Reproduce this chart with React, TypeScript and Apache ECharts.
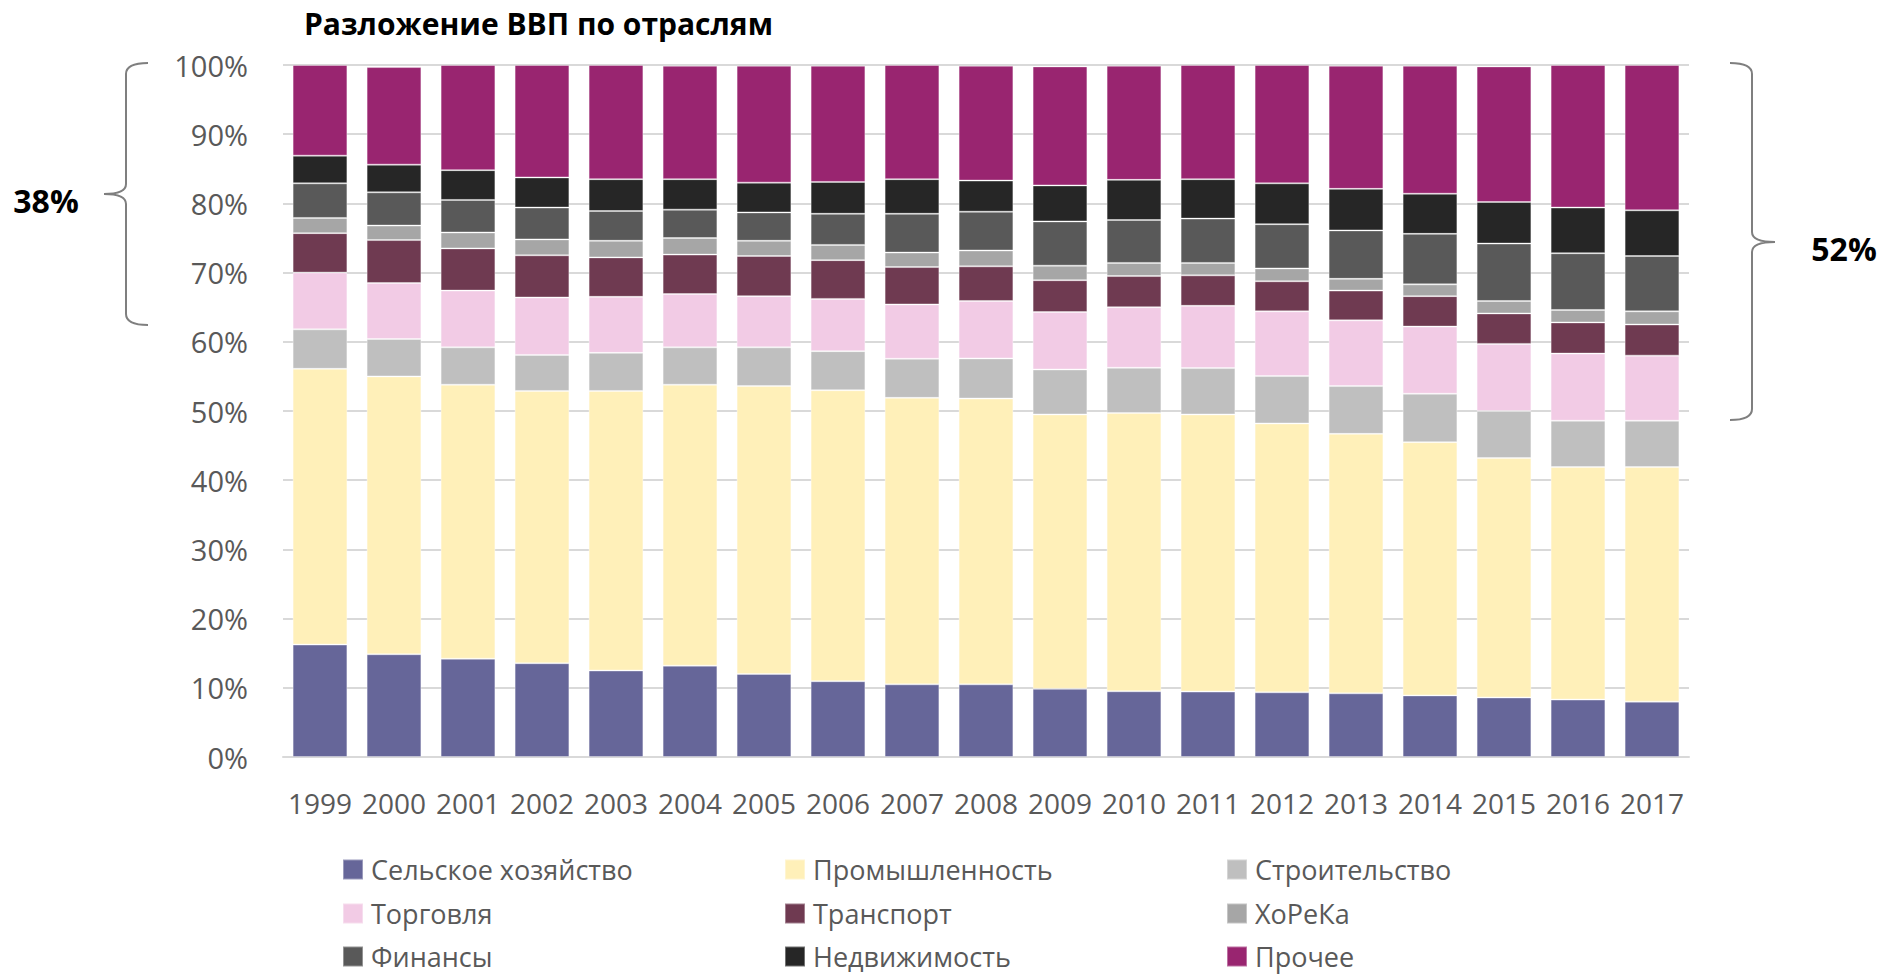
import React, { useEffect, useRef } from "react";
import * as echarts from "echarts";

const years = ["1999","2000","2001","2002","2003","2004","2005","2006","2007","2008","2009","2010","2011","2012","2013","2014","2015","2016","2017"];
const yTicks = [0, 10, 20, 30, 40, 50, 60, 70, 80, 90, 100];

const agriculture = [16.25,14.85,14.2,13.55,12.5,13.2,12.0,10.95,10.5,10.5,9.85,9.5,9.45,9.35,9.2,8.9,8.6,8.3,8.0];
const industry = [39.85,40.15,39.6,39.35,40.4,40.6,41.6,42.05,41.4,41.3,39.65,40.2,40.05,38.85,37.5,36.6,34.6,33.6,33.9];
const construction = [5.7,5.4,5.4,5.2,5.5,5.4,5.6,5.65,5.65,5.8,6.5,6.55,6.7,6.85,6.9,7.0,6.8,6.7,6.7];
const trade = [8.2,8.1,8.2,8.3,8.1,7.7,7.4,7.55,7.85,8.3,8.3,8.75,9.0,9.35,9.5,9.7,9.7,9.7,9.4];
const transport = [5.7,6.2,6.1,6.1,5.7,5.7,5.8,5.6,5.4,5.0,4.6,4.5,4.4,4.35,4.3,4.4,4.4,4.5,4.5];
const horeca = [2.2,2.1,2.3,2.3,2.4,2.4,2.2,2.2,2.1,2.3,2.1,1.9,1.8,1.85,1.7,1.7,1.8,1.8,1.9];
const finance = [5.0,4.8,4.7,4.6,4.3,4.1,4.1,4.5,5.6,5.6,6.4,6.2,6.4,6.4,7.0,7.3,8.3,8.2,8.0];
const realEstate = [4.0,4.0,4.3,4.35,4.6,4.4,4.3,4.6,5.0,4.5,5.2,5.8,5.7,5.9,6.0,5.8,6.0,6.6,6.6];
const other = [13.1,14.1,15.2,16.25,16.5,16.4,16.9,16.8,16.5,16.6,17.2,16.5,16.5,17.1,17.8,18.5,19.6,20.6,21.0];

const seriesNames = ["Сельское хозяйство","Промышленность","Строительство","Торговля","Транспорт","ХоРеКа","Финансы","Недвижимость","Прочее"];
const seriesValues = [agriculture, industry, construction, trade, transport, horeca, finance, realEstate, other];
const seriesColors = ["#666699","#FFF0B9","#BFBFBF","#F2CBE5","#6F3A51","#A6A6A6","#595959","#262626","#992570"];

const title = "Разложение ВВП по отраслям";
const leftBraceLabel = "38%";
const rightBraceLabel = "52%";

const FONT = "'Open Sans', sans-serif";

const legendColumnsX = [342, 784, 1226];
const legendRowsY = [856, 900, 943];

export default function App() {
  const ref = useRef<HTMLDivElement>(null);

  useEffect(() => {
    if (!ref.current) return;
    try {
      echarts.graphic.registerShape(
        "braceLeft",
        echarts.graphic.extendPath(
          "M148,63 Q126,63 126,74 L126,184 Q126,194 104,194 Q126,194 126,204 L126,314 Q126,325 148,325",
          {}
        )
      );
      echarts.graphic.registerShape(
        "braceRight",
        echarts.graphic.extendPath(
          "M1730,63 Q1752,63 1752,74 L1752,232 Q1752,242 1775,242 Q1752,242 1752,252 L1752,409 Q1752,420 1730,420",
          {}
        )
      );
    } catch (e) {}

    const chart = echarts.init(ref.current, undefined, { renderer: "svg" });

    const series = seriesNames.map((name, i) => ({
      name,
      type: "bar",
      stack: "total",
      barCategoryGap: "26%",
      data: seriesValues[i],
      itemStyle: { color: seriesColors[i], borderColor: "rgba(255,255,255,0.35)", borderWidth: 1 },
      emphasis: { disabled: true },
    }));

    const legends = seriesNames.map((name, i) => ({
      orient: "horizontal",
      left: legendColumnsX[i % 3],
      top: legendRowsY[Math.floor(i / 3)],
      itemWidth: 20,
      itemHeight: 20,
      itemGap: 10,
      padding: 0,
      icon: "rect",
      selectedMode: false,
      data: [name],
      textStyle: { fontFamily: FONT, fontSize: 27, lineHeight: 24, color: "#595959", padding: [0, 0, 0, 3] },
    }));

    chart.setOption({
      animation: false,
      textStyle: { fontFamily: FONT },
      grid: { left: 283, right: 191, top: 65, bottom: 219, containLabel: false },
      title: {
        text: title,
        left: 304,
        top: 8,
        padding: 0,
        textStyle: { fontFamily: FONT, fontSize: 30, fontWeight: "bold", color: "#000000" },
      },
      legend: legends,
      xAxis: {
        type: "category",
        data: years,
        axisTick: { show: false },
        axisLine: { lineStyle: { color: "#D9D9D9", width: 2 } },
        axisLabel: { interval: 0, fontFamily: FONT, fontSize: 28, color: "#595959", margin: 32 },
      },
      yAxis: {
        type: "value",
        min: yTicks[0],
        max: yTicks[yTicks.length - 1],
        interval: 10,
        axisLine: { show: false },
        axisTick: { show: false },
        splitLine: { lineStyle: { color: "#D9D9D9", width: 2 } },
        axisLabel: { formatter: "{value}%", fontFamily: FONT, fontSize: 29, color: "#595959", margin: 35 },
      },
      graphic: [
        { type: "braceLeft", x: 0, y: 0, style: { fill: "none", stroke: "#7F7F7F", lineWidth: 2 } },
        { type: "braceRight", x: 0, y: 0, style: { fill: "none", stroke: "#7F7F7F", lineWidth: 2 } },
        {
          type: "text",
          x: 46,
          y: 200,
          style: { text: leftBraceLabel, font: `bold 32px ${FONT}`, fill: "#000000", align: "center", verticalAlign: "middle" },
        },
        {
          type: "text",
          x: 1844,
          y: 248,
          style: { text: rightBraceLabel, font: `bold 32px ${FONT}`, fill: "#000000", align: "center", verticalAlign: "middle" },
        },
      ],
      series,
    });

    return () => {
      chart.dispose();
    };
  }, []);

  return (
    <div
      ref={ref}
      style={{ position: "fixed", left: 0, top: 0, width: 1880, height: 976, background: "#ffffff" }}
    />
  );
}
